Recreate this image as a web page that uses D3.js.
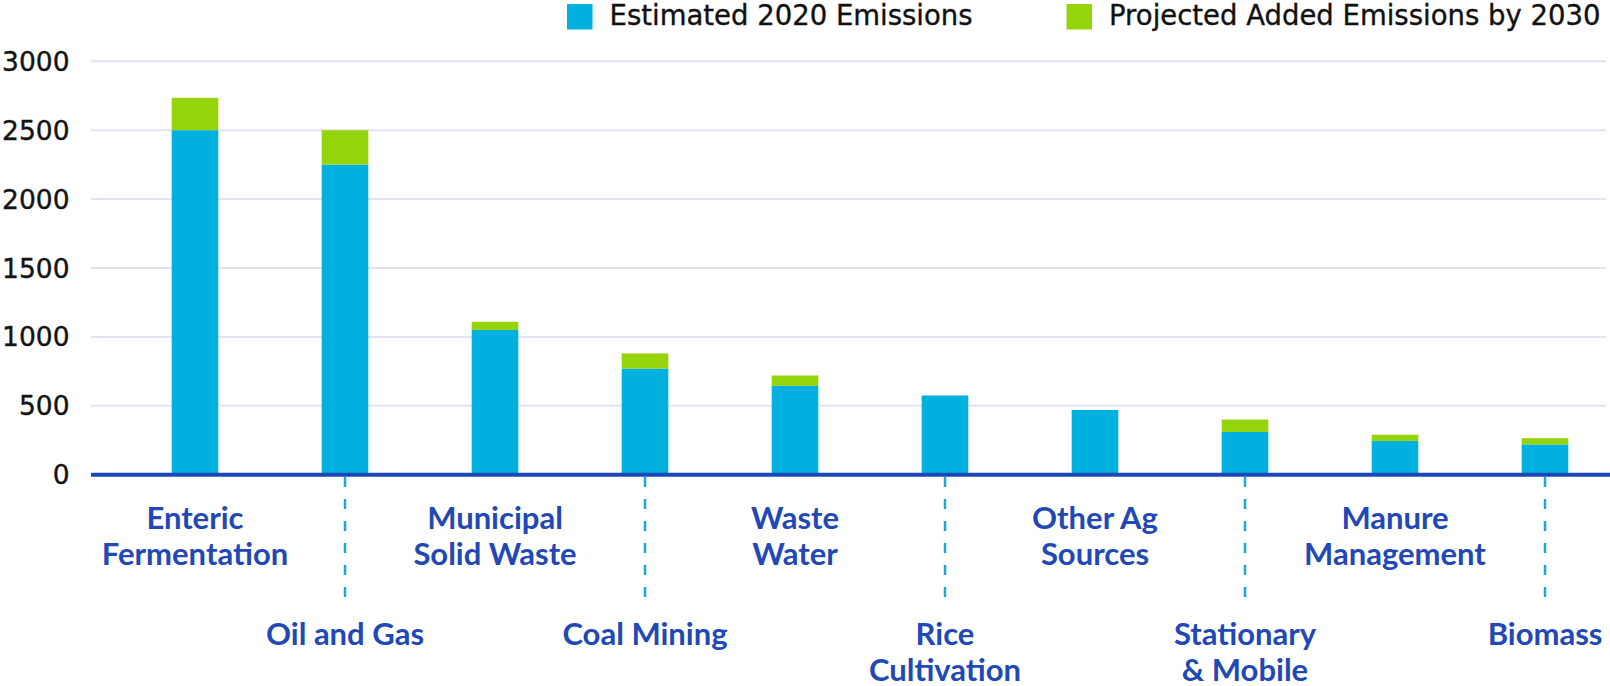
<!DOCTYPE html>
<html>
<head>
<meta charset="utf-8">
<script src="https://cdn.jsdelivr.net/npm/d3@7"></script>
<style>
  html, body { margin: 0; padding: 0; background: #ffffff; overflow: hidden; }
  svg { display: block; }
</style>
</head>
<body>
<svg id="chart" width="1610" height="686"></svg>
<script>
// ---- data ----
const categories = ["Enteric Fermentation", "Oil and Gas", "Municipal Solid Waste", "Coal Mining", "Waste Water",
                    "Rice Cultivation", "Other Ag Sources", "Stationary & Mobile", "Manure Management", "Biomass"];
const labelLines = [["Enteric", "Fermentation"], ["Oil and Gas"], ["Municipal", "Solid Waste"], ["Coal Mining"],
                    ["Waste", "Water"], ["Rice", "Cultivation"], ["Other Ag", "Sources"], ["Stationary", "& Mobile"],
                    ["Manure", "Management"], ["Biomass"]];
const estimated2020 = [2500, 2250, 1050, 770, 645, 575, 470, 310, 245, 220];
const addedBy2030   = [235, 250, 60, 110, 75, 0, 0, 90, 45, 45];
const seriesNames = ["Estimated 2020 Emissions", "Projected Added Emissions by 2030"];
const yTicks = [0, 500, 1000, 1500, 2000, 2500, 3000];

// ---- style ----
const blue = "#00b1e0", green = "#95d30b", axisBlue = "#1d47b6", labelBlue = "#2148b5", tickBlue = "#1aa9da";
const labelFont = "Lato, 'Open Sans', sans-serif";
const wideFont = "'DejaVu Sans', sans-serif";

const svg = d3.select("#chart");

const x = d3.scaleBand().domain(categories).range([120, 1620]).paddingInner(0.689).paddingOuter(0.3445);
const y = d3.scaleLinear().domain([0, 3000]).range([474.7, 61.3]);

const stackData = categories.map((c, i) => ({ cat: c, base: estimated2020[i], added: addedBy2030[i] }));
const stack = d3.stack().keys(["base", "added"])(stackData);

// gridlines
svg.append("g").selectAll("line").data(yTicks.filter(d => d > 0)).join("line")
  .attr("x1", 91).attr("x2", 1606)
  .attr("y1", d => y(d)).attr("y2", d => y(d))
  .attr("stroke", "#e3e3f4").attr("stroke-width", 2);

// y tick labels
svg.append("g").selectAll("text").data(yTicks).join("text")
  .attr("x", 69.5).attr("y", d => y(d)).attr("dy", "0.36em")
  .attr("text-anchor", "end")
  .attr("font-family", wideFont).attr("font-size", 26.5)
  .attr("fill", "#141414").attr("stroke", "#141414").attr("stroke-width", 0.4)
  .text(d => d);

// bars
const colors = [blue, green];
svg.append("g").selectAll("g").data(stack).join("g")
  .attr("fill", (d, i) => colors[i])
  .selectAll("rect").data(d => d).join("rect")
  .attr("x", d => x(d.data.cat))
  .attr("width", x.bandwidth())
  .attr("y", d => y(d[1]))
  .attr("height", d => Math.max(0, y(d[0]) - y(d[1])));

// axis line
svg.append("line").attr("x1", 91).attr("x2", 1610).attr("y1", y(0)).attr("y2", y(0))
  .attr("stroke", axisBlue).attr("stroke-width", 4);

// dashed ticks for alternating (lower) labels
svg.append("g").selectAll("line").data(categories.filter((c, i) => i % 2 === 1)).join("line")
  .attr("x1", d => x(d) + x.bandwidth() / 2).attr("x2", d => x(d) + x.bandwidth() / 2)
  .attr("y1", 477).attr("y2", 606)
  .attr("stroke", tickBlue).attr("stroke-width", 2.5).attr("stroke-dasharray", "10,12");

// category labels
const lab = svg.append("g").selectAll("text").data(categories).join("text")
  .attr("text-anchor", "middle")
  .attr("font-family", labelFont).attr("font-size", 31).attr("font-weight", 700)
  .attr("fill", labelBlue)
  .attr("transform", (d, i) => `translate(${x(d) + x.bandwidth() / 2},${i % 2 === 0 ? 529.3 : 645})`);
lab.selectAll("tspan").data((d, i) => labelLines[i]).join("tspan")
  .attr("x", 0).attr("y", (d, j) => j * 35.5)
  .text(d => d);

// legend
const legendX = [567, 1066.5];
const leg = svg.append("g").selectAll("g").data(seriesNames).join("g")
  .attr("transform", (d, i) => `translate(${legendX[i]},4)`);
leg.append("rect").attr("width", 25.5).attr("height", 25.5).attr("fill", (d, i) => colors[i]);
leg.append("text").attr("x", 42.5).attr("y", 21)
  .attr("font-family", wideFont).attr("font-size", 27.5)
  .attr("fill", "#111111").attr("stroke", "#111111").attr("stroke-width", 0.35)
  .text(d => d);
</script>
</body>
</html>
